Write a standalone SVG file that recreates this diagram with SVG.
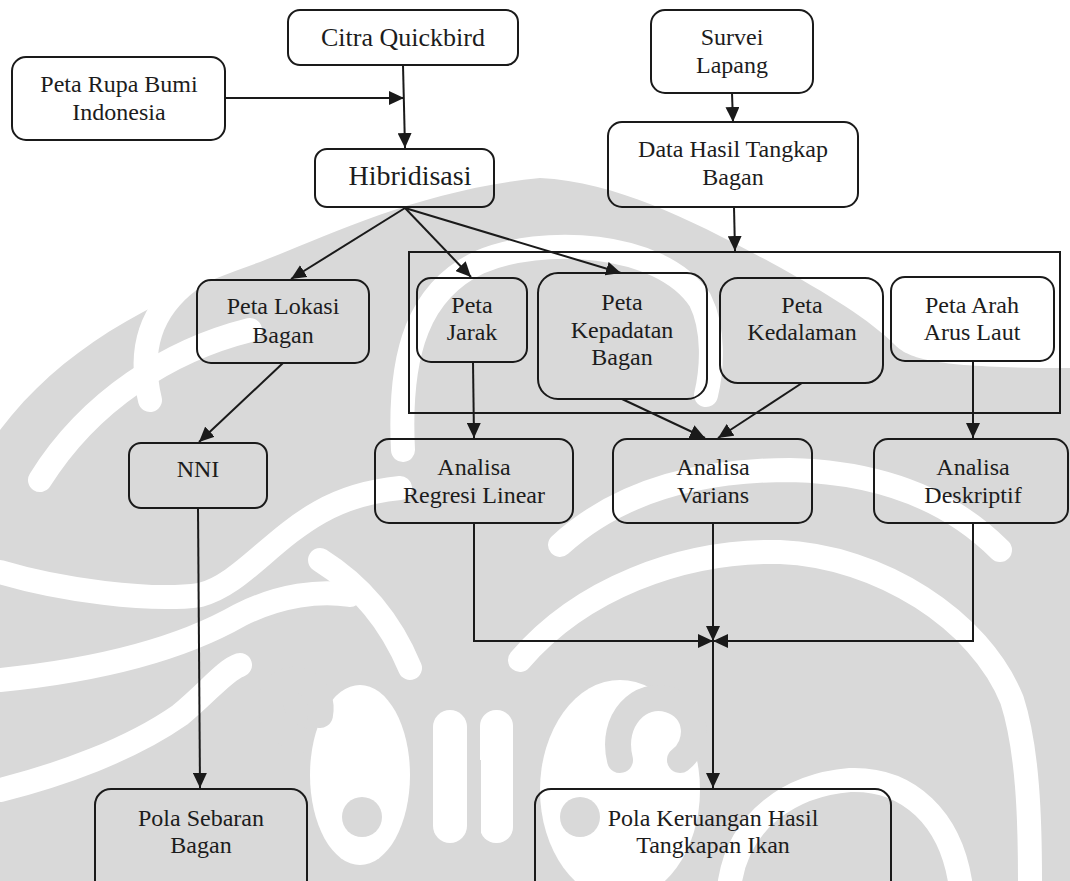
<svg xmlns="http://www.w3.org/2000/svg" width="1070" height="881" viewBox="0 0 1070 881">
<defs>
<marker id="arr" markerUnits="userSpaceOnUse" markerWidth="15" markerHeight="14" refX="15" refY="7" orient="auto">
<path d="M0,0 L15,7 L0,14 z" fill="#1a1a1a"/>
</marker>
<style>
.box{fill:none;stroke:#1a1a1a;stroke-width:2}
.frame{fill:none;stroke:#1a1a1a;stroke-width:2}
.t{font-family:"Liberation Serif","Times New Roman",serif;font-size:24px;fill:#1c1c1c;text-anchor:middle}
.ea{fill:none;stroke:#1a1a1a;stroke-width:2;marker-end:url(#arr)}
.wg{fill:#d9d9d9}
.ws{fill:none;stroke:#fff;stroke-width:24;stroke-linecap:round}
.ww{fill:#fff}
.gs{fill:none;stroke:#d9d9d9;stroke-width:26;stroke-linecap:round}
</style>
</defs>
<rect width="1070" height="881" fill="#fff"/>

<g id="watermark">
<path class="wg" d="M0,430 C60,350 150,300 260,262 C330,235 420,190 540,178 C620,182 700,225 770,262 C830,295 870,320 895,345 C910,360 940,368 1070,368 L1070,881 L0,881 Z"/>
<path class="ws" d="M403,450 C398,350 420,290 480,262 C540,236 660,240 700,300 C715,330 712,370 706,395"/>
<path class="ws" d="M150,400 C138,350 150,310 190,280"/>
<path class="ws" d="M40,480 C90,400 170,350 250,330"/>
<path class="ws" d="M520,660 C580,590 680,550 780,552 C880,556 980,620 1012,700 C1028,750 1030,820 1030,881"/>
<path class="ws" d="M560,545 C620,490 700,470 790,470 C880,472 950,500 1000,550"/>
<path class="ws" d="M0,572 C60,590 150,602 200,595 C240,585 270,540 320,512 C350,495 380,490 400,488"/>
<path class="ws" d="M410,668 C390,620 360,585 320,560"/>
<path class="ws" d="M0,680 C80,672 170,655 240,615 C280,595 320,590 350,595"/>
<path class="ws" d="M0,790 C60,775 130,750 180,715 C210,690 225,670 240,665"/>
<path class="ws" d="M730,881 C740,820 790,785 850,780 C910,778 950,820 960,881"/>
<ellipse class="ww" cx="360" cy="775" rx="50" ry="90"/>
<circle class="wg" cx="362" cy="817" r="20"/>
<ellipse class="ww" cx="620" cy="790" rx="80" ry="110"/>
<path class="gs" d="M620,760 C610,720 640,690 670,700 C700,710 700,745 680,760"/>
<circle class="wg" cx="580" cy="817" r="20"/>
<rect class="ww" x="433" y="710" width="34" height="133" rx="17"/>
<rect class="ww" x="480" y="710" width="33" height="133" rx="16"/>
<rect class="wg" x="467" y="760" width="14" height="83"/>
<path class="gs" d="M300,740 C270,730 262,700 280,685 C300,670 325,690 320,715"/>
</g>

<g id="connectors">
<path class="ea" d="M403,65 L405,148"/>
<path class="ea" d="M225,98 L404,98"/>
<path class="ea" d="M405,208 L291,279"/>
<path class="ea" d="M405,208 L471,277"/>
<path class="ea" d="M405,208 L621,273"/>
<path class="ea" d="M732,93 L733,122"/>
<path class="ea" d="M734,207 L735,251"/>
<path class="ea" d="M283,363 L199,442"/>
<path class="ea" d="M473,362 L474,438"/>
<path class="ea" d="M622,399 L705,438"/>
<path class="ea" d="M802,383 L718,438"/>
<path class="ea" d="M973,361 L973,438"/>
<path class="ea" d="M198,508 L200,788"/>
<path class="ea" d="M474,523 L474,641 L713,641"/>
<path class="ea" d="M973,523 L973,641 L713,641"/>
<path class="ea" d="M713,523 L713,641"/>
<path class="ea" d="M713,641 L713,788"/>
</g>

<g id="group-frame"><rect class="frame" x="409" y="252" width="651" height="161"/></g>

<g id="citra"><rect class="box" x="288" y="10" width="230" height="55" rx="12"/><text class="t" x="403" y="46" style="font-size:26px">Citra Quickbird</text></g>
<g id="rupa-bumi"><rect class="box" x="12" y="57" width="213" height="83" rx="14"/><text class="t" x="119" y="92">Peta Rupa Bumi</text><text class="t" x="119" y="120">Indonesia</text></g>
<g id="hibridisasi"><rect class="box" x="315" y="149" width="179" height="58" rx="12"/><text class="t" x="410" y="185" style="font-size:28px">Hibridisasi</text></g>
<g id="survei"><rect class="box" x="651" y="10" width="162" height="83" rx="14"/><text class="t" x="732" y="45">Survei</text><text class="t" x="732" y="73">Lapang</text></g>
<g id="data-hasil"><rect class="box" x="608" y="122" width="250" height="85" rx="14"/><text class="t" x="733" y="157">Data Hasil Tangkap</text><text class="t" x="733" y="185">Bagan</text></g>
<g id="peta-lokasi"><rect class="box" x="197" y="280" width="172" height="83" rx="14"/><text class="t" x="283" y="314">Peta Lokasi</text><text class="t" x="283" y="343">Bagan</text></g>
<g id="peta-jarak"><rect class="box" x="417" y="278" width="110" height="84" rx="14"/><text class="t" x="472" y="313">Peta</text><text class="t" x="472" y="340">Jarak</text></g>
<g id="peta-kepadatan"><rect class="box" x="538" y="273" width="169" height="126" rx="20"/><text class="t" x="622" y="310">Peta</text><text class="t" x="622" y="338">Kepadatan</text><text class="t" x="622" y="365">Bagan</text></g>
<g id="peta-kedalaman"><rect class="box" x="720" y="278" width="163" height="105" rx="18"/><text class="t" x="802" y="313">Peta</text><text class="t" x="802" y="340">Kedalaman</text></g>
<g id="peta-arus"><rect class="box" x="891" y="277" width="163" height="84" rx="14"/><text class="t" x="972" y="313">Peta Arah</text><text class="t" x="972" y="340">Arus Laut</text></g>
<g id="nni"><rect class="box" x="129" y="443" width="138" height="65" rx="12"/><text class="t" x="198" y="477">NNI</text></g>
<g id="regresi"><rect class="box" x="375" y="439" width="198" height="84" rx="14"/><text class="t" x="474" y="475">Analisa</text><text class="t" x="474" y="503">Regresi Linear</text></g>
<g id="varians"><rect class="box" x="613" y="439" width="199" height="84" rx="14"/><text class="t" x="713" y="475">Analisa</text><text class="t" x="713" y="503">Varians</text></g>
<g id="deskriptif"><rect class="box" x="874" y="439" width="194" height="84" rx="14"/><text class="t" x="973" y="475">Analisa</text><text class="t" x="973" y="503">Deskriptif</text></g>
<g id="pola-sebaran"><rect class="box" x="95" y="789" width="212" height="120" rx="16"/><text class="t" x="201" y="826">Pola Sebaran</text><text class="t" x="201" y="853">Bagan</text></g>
<g id="pola-keruangan"><rect class="box" x="535" y="789" width="356" height="120" rx="16"/><text class="t" x="713" y="826">Pola Keruangan Hasil</text><text class="t" x="713" y="853">Tangkapan Ikan</text></g>
</svg>
